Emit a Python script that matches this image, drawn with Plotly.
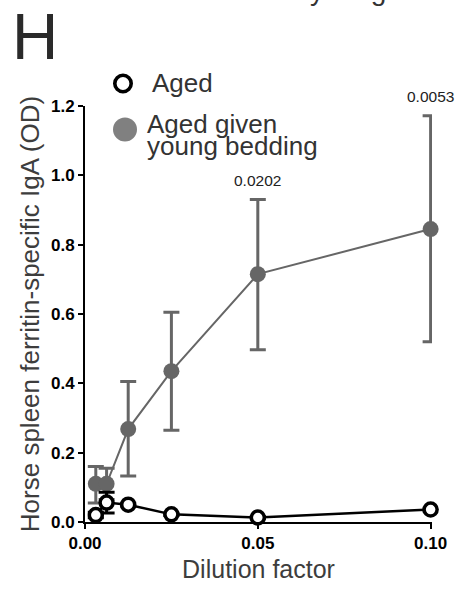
import plotly.graph_objects as go

dilution = [0.003125, 0.00625, 0.0125, 0.025, 0.05, 0.10]
aged = [0.020, 0.056, 0.050, 0.022, 0.013, 0.036]
aged_err = [0.008, 0.030, 0.004, 0.003, 0.003, 0.004]
young = [0.110, 0.110, 0.268, 0.435, 0.715, 0.845]
young_err_plus = [0.050, 0.045, 0.137, 0.170, 0.215, 0.327]
young_err_minus = [0.055, 0.045, 0.135, 0.170, 0.218, 0.325]
pvals = ["", "", "", "", "0.0202", "0.0053"]
yticks = [0.0, 0.2, 0.4, 0.6, 0.8, 1.0, 1.2]
xticks = [0.0, 0.05, 0.10]
xticktext = ["0.00", "0.05", "0.10"]
legend_names = ["Aged", "Aged given", "young bedding"]

FONT = "Arial, Liberation Sans, sans-serif"
GRAY = "#666666"
TXT = "#333333"

# plot area in pixels
L, R, T, B = 85, 30, 106, 60
W, H = 462, 591
PW, PH = W - L - R, H - T - B


def px(xp):
    return (xp - L) / PW


def py(yp):
    return (H - B - yp) / PH


fig = go.Figure()
fig.add_trace(go.Scatter(
    x=dilution, y=young, mode="lines+markers", showlegend=False,
    line=dict(color=GRAY, width=2),
    marker=dict(color=GRAY, size=16),
    error_y=dict(type="data", symmetric=False, array=young_err_plus,
                 arrayminus=young_err_minus, color=GRAY, thickness=3, width=8),
    cliponaxis=False,
))
fig.add_trace(go.Scatter(
    x=dilution, y=aged, mode="lines+markers", showlegend=False,
    line=dict(color="black", width=2.5),
    marker=dict(color="white", size=13, line=dict(color="black", width=3.5)),
    error_y=dict(type="data", array=aged_err, color="black", thickness=3, width=8),
    cliponaxis=False,
))

for x, y, e, p in zip(dilution, young, young_err_plus, pvals):
    if p:
        fig.add_annotation(x=x, y=y + e, text=p, showarrow=False,
                           yanchor="middle", yshift=19,
                           font=dict(family=FONT, size=15.5, color="#222"))

# panel letter
fig.add_annotation(xref="paper", yref="paper", x=px(10), y=py(35),
                   xanchor="left", yanchor="middle", text="H", showarrow=False,
                   font=dict(family=FONT, size=64, color="#2a2a2a"))
# cut-off text from panel above (only descenders visible)
fig.add_annotation(xref="paper", yref="paper", x=px(348), y=py(-12),
                   xanchor="center", yanchor="middle", text="young", showarrow=False,
                   font=dict(family=FONT, size=28, color=TXT))

# legend drawn by hand
fig.add_shape(type="circle", xref="paper", yref="paper",
              xsizemode="pixel", ysizemode="pixel",
              xanchor=px(123), yanchor=py(83), x0=-8.2, x1=8.2, y0=-8.2, y1=8.2,
              line=dict(color="black", width=3.6), fillcolor="white")
fig.add_shape(type="circle", xref="paper", yref="paper",
              xsizemode="pixel", ysizemode="pixel",
              xanchor=px(125), yanchor=py(130), x0=-12, x1=12, y0=-12, y1=12,
              line=dict(width=0), fillcolor="#808080")
for name, xl, yc in zip(legend_names, [150, 145, 145], [83, 124, 147]):
    fig.add_annotation(xref="paper", yref="paper", x=px(xl), y=py(yc),
                       xanchor="left", yanchor="middle", text=name, showarrow=False,
                       font=dict(family=FONT, size=26, color=TXT))

fig.update_layout(
    width=W, height=H,
    margin=dict(l=L, r=R, t=T, b=B),
    paper_bgcolor="white", plot_bgcolor="white",
    font=dict(family=FONT),
    showlegend=False,
    xaxis=dict(range=[0, 0.1004], tickvals=xticks, ticktext=xticktext,
               showgrid=False, zeroline=False, showline=True, linecolor="black", linewidth=2,
               ticks="outside", ticklen=5, tickwidth=2, tickcolor="black",
               tickfont=dict(family=FONT, size=17, color="black", weight="bold"),
               title=dict(text="Dilution factor", font=dict(family=FONT, size=25, color="#3d3d3d"),
                          standoff=8)),
    yaxis=dict(range=[0, 1.2], tickvals=yticks, tickformat=".1f",
               showgrid=False, zeroline=False, showline=True, linecolor="black", linewidth=2,
               ticks="outside", ticklen=5, tickwidth=2, tickcolor="black",
               tickfont=dict(family=FONT, size=17, color="black", weight="bold"),
               title=dict(text="Horse spleen ferritin-specific IgA (OD)",
                          font=dict(family=FONT, size=26, color="#3d3d3d"), standoff=4)),
)

fig.write_html("out.html")
